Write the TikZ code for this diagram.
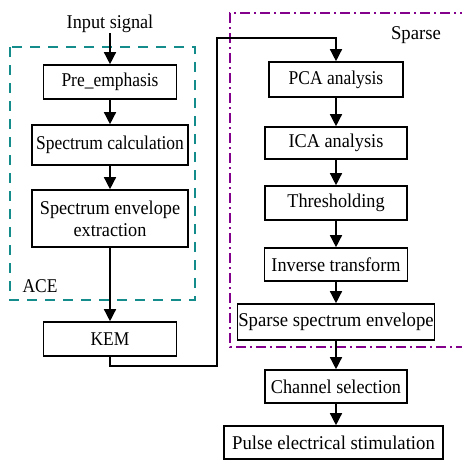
\documentclass[tikz,border=0pt]{standalone}
\usepackage{fontspec}
\setmainfont{Liberation Serif}
\newfontfamily\leftface[FakeStretch=0.895]{Liberation Serif}
\newfontfamily\rightface[FakeStretch=0.935]{Liberation Serif}
\newfontfamily\wideface[FakeStretch=0.96]{Liberation Serif}
\usetikzlibrary{arrows.meta}
\definecolor{acecol}{RGB}{20,140,140}
\definecolor{sparsecol}{RGB}{130,0,140}
\begin{document}
\begin{tikzpicture}[x=1pt,y=-1pt,
  blk/.style={draw, line width=1.6pt, inner sep=0pt, align=center,
    font=\leftface\fontsize{19.5}{22}\selectfont},
  rblk/.style={blk, font=\rightface\fontsize{19.5}{22}\selectfont},
  wblk/.style={blk, font=\wideface\fontsize{19.5}{22}\selectfont},
  lbl/.style={inner sep=0pt, font=\leftface\fontsize{19.5}{22}\selectfont},
  flow/.style={line width=1.4pt, -{Triangle[length=12pt,width=12pt]}},
  wire/.style={line width=1.4pt}]
\clip (0,0) rectangle (462,460);

% group frames
\draw[acecol, line width=2pt, dash pattern=on 10pt off 8pt] (10,47) rectangle (195,300);
\draw[sparsecol, line width=2pt, dash pattern=on 10pt off 4pt on 2pt off 4pt]
  (470,13) -- (230,13) -- (230,347) -- (470,347);
\node[lbl] (acel) at (40,286) {ACE};
\node[lbl, font=\wideface\fontsize{19.5}{22}\selectfont] (spl) at (416,35) {Sparse};

% left column
\node[lbl, font=\rightface\fontsize{19.5}{22}\selectfont] (in) at (110,24) {Input signal};
\node[blk, minimum width=133pt, minimum height=34pt] (pre) at (110,82) {Pre\_emphasis};
\node[blk, minimum width=156pt, minimum height=40pt] (calc) at (110,145) {Spectrum calculation};
\node[rblk, minimum width=156pt, minimum height=57pt] (env) at (110,218.5) {Spectrum envelope\\extraction};
\node[blk, minimum width=133pt, minimum height=34pt] (kem) at (110,339) {KEM};

% right column
\node[blk, minimum width=134pt, minimum height=35pt] (pca) at (336,79.5) {PCA analysis};
\node[rblk, minimum width=142pt, minimum height=32pt] (ica) at (336,143) {ICA analysis};
\node[rblk, minimum width=142pt, minimum height=34pt] (thr) at (336,203) {Thresholding};
\node[rblk, minimum width=143pt, minimum height=33pt] (inv) at (336,264.5) {Inverse transform};
\node[wblk, minimum width=197pt, minimum height=36pt] (spe) at (336,322) {Sparse spectrum envelope};
\node[rblk, minimum width=142pt, minimum height=33pt] (cha) at (336,386.5) {Channel selection};
\node[wblk, minimum width=219pt, minimum height=33pt] (pul) at (333.5,442.5) {Pulse electrical stimulation};

% connectors
\draw[flow] (in.south) -- (pre.north);
\draw[flow] (pre) -- (calc);
\draw[flow] (calc) -- (env);
\draw[flow] (env) -- (kem);
\coordinate (k1) at (110,366);
\coordinate (k2) at (217,366);
\coordinate (k3) at (217,38);
\coordinate (k4) at (336,38);
\draw[flow] (kem.south) -- (k1) -- (k2) -- (k3) -- (k4) -- (pca.north);
\draw[flow] (pca) -- (ica);
\draw[flow] (ica) -- (thr);
\draw[flow] (thr) -- (inv);
\draw[flow] (inv) -- (spe);
\draw[flow] (spe) -- (cha);
\draw[flow] (cha.south) -- (cha.south |- pul.north);
\end{tikzpicture}
\end{document}
